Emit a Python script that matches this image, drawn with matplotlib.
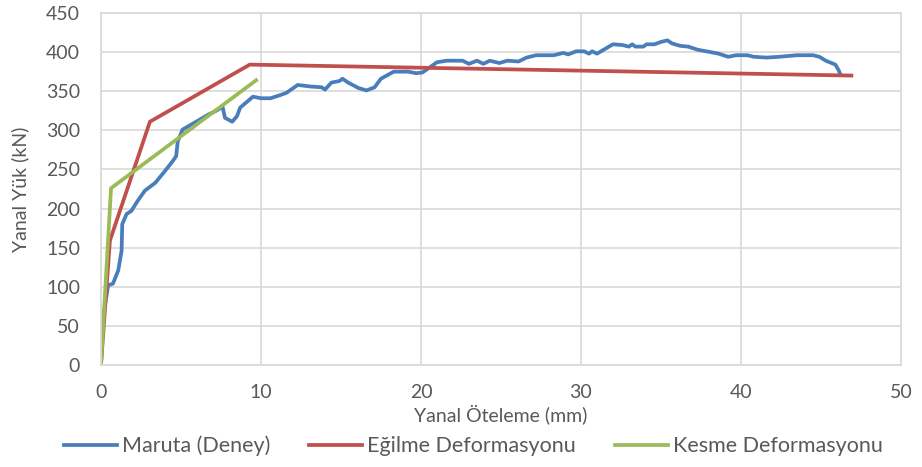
import matplotlib.pyplot as plt

plt.rcParams['font.family'] = ['Lato', 'DejaVu Sans']

# experimental curve (Maruta)
maruta_x = [0, 0.1, 0.2, 0.45, 0.75, 1.08, 1.29, 1.33, 1.6, 1.9, 2.3, 2.75, 3.4, 4.0, 4.5, 4.7,
            4.8, 5.1, 5.7, 6.2, 6.7, 7.2, 7.6, 7.75, 8.2, 8.5, 8.7, 9.5, 10.0, 10.6, 11.2,
            11.6, 12.3, 13.1, 13.8, 14.0, 14.4, 14.9, 15.1, 15.45, 16.1, 16.6, 17.1, 17.5,
            18.3, 19.2, 19.7, 20.1, 21.0, 21.6, 22.6, 23.0, 23.5, 23.9, 24.3, 24.9, 25.4,
            26.1, 26.6, 27.2, 28.3, 28.9, 29.2, 29.7, 30.2, 30.5, 30.7, 31.0, 31.5, 32.0,
            32.6, 33.0, 33.2, 33.4, 33.9, 34.1, 34.6, 35.0, 35.4, 35.7, 36.2, 36.7, 37.3,
            38.1, 38.6, 39.2, 39.7, 40.4, 40.8, 41.6, 42.4, 43.5, 44.5, 44.9, 45.3, 45.9,
            46.1, 46.2]
maruta_y = [0, 45, 70, 102, 104, 121, 146, 180, 193, 197, 210, 223, 233, 248, 261, 267,
            286, 301, 308, 314, 320, 325, 330, 316, 311, 318, 329, 343, 341, 341, 345,
            348, 358, 356, 355, 352, 361, 363, 366, 361, 354, 351, 355, 366,
            375, 375, 373, 374, 387, 389, 389, 385, 389, 385, 389, 386, 389,
            388, 393, 396, 396, 399, 397, 401, 401, 398, 401, 398, 404, 410,
            409, 407, 410, 407, 407, 410, 410, 413, 415, 411, 408, 407, 403,
            400, 398, 394, 396, 396, 394, 393, 394, 396, 396, 394, 389, 384,
            377, 372]

# flexural deformation model
egilme_x = [0, 0.56, 3.06, 9.3, 46.9]
egilme_y = [0, 159, 311, 384, 370]

# shear deformation model
kesme_x = [0, 0.63, 9.7]
kesme_y = [0, 226, 364]

fig = plt.figure(figsize=(9.22, 4.67), dpi=100)
ax = fig.add_axes([0.1095, 0.2184, 0.8677, 0.7538])

ax.plot(maruta_x, maruta_y, color='#4a7ebb', lw=2.7, label='Maruta (Deney)')
ax.plot(egilme_x, egilme_y, color='#c0504d', lw=2.7, label='Eğilme Deformasyonu')
ax.plot(kesme_x, kesme_y, color='#9bbb59', lw=2.7, label='Kesme Deformasyonu')

ax.set_xlim(0, 50)
ax.set_ylim(0, 450)
ax.set_xticks(range(0, 51, 10))
ax.set_yticks(range(0, 451, 50))
ax.grid(True, color='#d9d9d9', lw=1.2)
ax.set_axisbelow(True)
for s in ax.spines.values():
    s.set_color('#d9d9d9')
    s.set_linewidth(1.2)
ax.tick_params(length=0, labelsize=14, colors='#595959')
ax.tick_params(axis='x', pad=14)
ax.tick_params(axis='y', pad=15)

ax.set_xlabel('Yanal Öteleme (mm)', fontsize=14, color='#595959', labelpad=2)
ax.set_ylabel('Yanal Yük (kN)', fontsize=14, color='#595959', labelpad=12)

ax.legend(loc='center', bbox_to_anchor=(0.4656, -0.230), ncol=3, frameon=False,
          fontsize=15.5, handlelength=2.45, handletextpad=0.24, columnspacing=1.8,
          labelcolor='#595959')

fig.savefig('out.png', dpi=100)
